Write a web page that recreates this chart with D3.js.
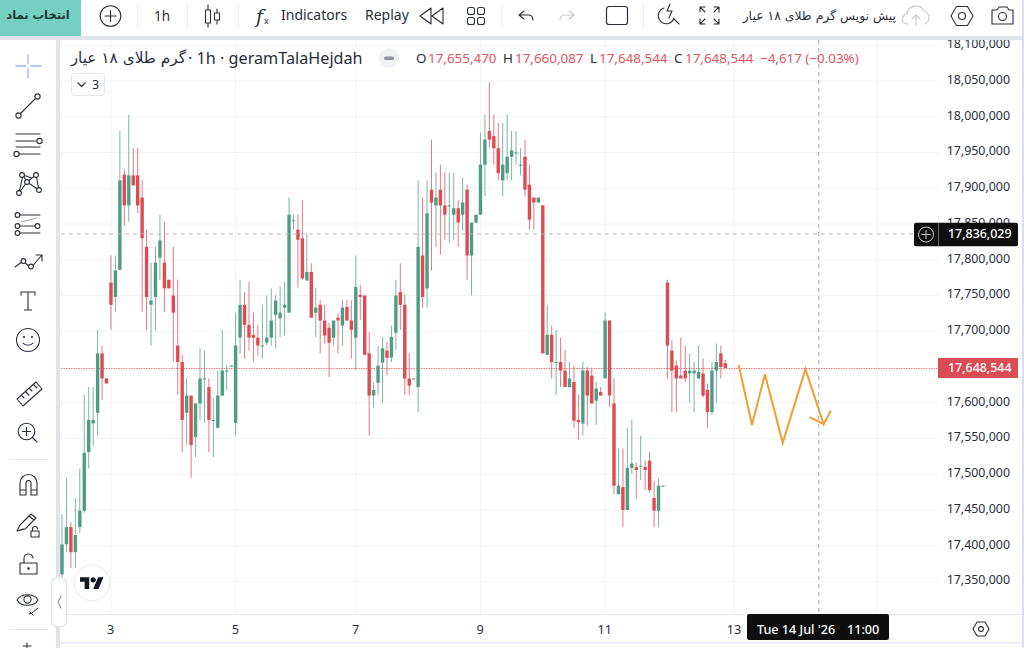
<!DOCTYPE html>
<html>
<head>
<meta charset="utf-8">
<title>geramTalaHejdah 1h</title>
<script src="https://cdn.jsdelivr.net/npm/d3@7/dist/d3.min.js"></script>
<style>
  html, body { margin: 0; padding: 0; background: #fff; }
  svg { display: block; }
  text { font-family: "Noto Sans", "DejaVu Sans", sans-serif; }
  .fa { font-family: "DejaVu Sans", sans-serif; }
</style>
</head>
<body>
<svg id="chart" width="1024" height="648"></svg>
<script>
// Hourly candles, prices in thousands.
const opens = [17360,17402,17426,17391,17426,17449,17531,17571,17586,17669,
17634,17768,17748,17786,17919,17876,17918,17918,17887,17818,
17737,17748,17803,17796,17772,17750,17680,17657,17586,17610,
17552,17599,17633,17622,17575,17565,17610,17644,17651,17572,
17691,17737,17709,17695,17691,17679,17684,17691,17723,17718,
17733,17726,17854,17842,17830,17771,17783,17726,17737,17715,
17705,17691,17719,17708,17734,17715,17691,17751,17750,17669,
17610,17628,17656,17673,17663,17698,17755,17737,17634,17633,
17622,17806,17760,17898,17876,17898,17876,17875,17863,17872,
17863,17898,17806,17852,17863,17933,17980,17973,17956,17911,
17921,17944,17949,17932,17944,17905,17887,17880,17876,17667,
17695,17656,17657,17645,17622,17629,17576,17571,17645,17638,
17603,17615,17634,17715,17599,17472,17482,17450,17509,17510,
17511,17510,17519,17467,17449,17483,17768,17673,17652,17638,
17645,17641,17641,17634,17641,17618,17587,17645,17669,17655.47];

const highs = [17444,17495,17433,17466,17508,17611,17622,17622,17702,17680,
17634,17806,17806,17980,17926,18003,17956,17956,17911,17842,
17796,17818,17863,17853,17772,17818,17772,17667,17634,17610,
17599,17676,17673,17634,17606,17645,17702,17653,17652,17726,
17772,17755,17769,17726,17709,17737,17750,17760,17751,17762,
17769,17887,17863,17863,17883,17837,17795,17761,17744,17737,
17712,17715,17725,17744,17744,17743,17806,17765,17750,17699,
17629,17680,17692,17685,17708,17772,17795,17751,17669,17634,
17911,17887,17911,17968,17922,17933,17922,17922,17922,17883,
17915,17905,17852,17863,17978,18003,18048,18003,17991,17991,
18003,17980,17980,17956,17968,17933,17887,17887,17876,17737,
17708,17702,17691,17674,17657,17652,17611,17657,17650,17649,
17629,17622,17726,17715,17634,17536,17536,17565,17576,17516,
17554,17519,17531,17491,17494,17484,17772,17687,17659,17691,
17680,17669,17657,17680,17662,17627,17657,17683,17680,17660.087];

const lows = [17355,17391,17369,17369,17418,17446,17508,17540,17554,17604,
17627,17702,17727,17786,17848,17853,17904,17865,17727,17702,
17680,17702,17772,17727,17760,17657,17611,17531,17541,17495,
17524,17576,17572,17531,17524,17565,17610,17618,17651,17554,
17669,17662,17673,17657,17666,17662,17680,17680,17676,17692,
17694,17726,17842,17761,17772,17771,17719,17692,17669,17683,
17636,17680,17669,17680,17715,17662,17646,17716,17667,17554,
17593,17611,17600,17638,17657,17674,17702,17611,17611,17633,
17587,17733,17733,17785,17818,17807,17828,17823,17828,17818,
17841,17772,17750,17852,17863,17889,17957,17933,17911,17889,
17911,17911,17933,17918,17889,17842,17842,17880,17669,17667,
17634,17611,17622,17622,17621,17565,17548,17554,17568,17599,
17569,17610,17634,17594,17472,17472,17426,17450,17501,17466,
17492,17478,17474,17426,17426,17483,17634,17587,17587,17634,
17629,17600,17587,17634,17607,17565,17583,17600,17634,17648.544];

const closes = [17402,17426,17391,17415,17449,17530,17576,17576,17669,17634,
17627,17737,17785,17911,17876,17918,17904,17876,17830,17748,
17743,17796,17827,17760,17760,17726,17657,17576,17610,17541,
17599,17634,17634,17576,17576,17610,17645,17645,17652,17680,
17737,17709,17691,17691,17680,17680,17691,17715,17743,17726,
17737,17863,17855,17828,17774,17783,17719,17733,17715,17694,
17684,17715,17715,17733,17715,17702,17762,17748,17667,17610,
17618,17652,17676,17663,17692,17750,17737,17634,17624,17634,
17818,17748,17865,17880,17887,17876,17863,17876,17872,17852,
17880,17806,17852,17863,17933,17968,17968,17956,17921,17933,
17944,17953,17950,17933,17898,17856,17880,17887,17669,17695,
17657,17657,17645,17622,17634,17575,17573,17645,17610,17599,
17620,17610,17715,17610,17484,17484,17450,17509,17515,17506,
17512,17506,17478,17449,17484,17484,17680,17645,17634,17634,
17634,17645,17645,17643,17610,17587,17645,17657,17650,17648.544];

// Price axis labels and date axis.
const priceTicks = [18100,18050,18000,17950,17900,17850,17800,17750,17700,17600,17550,17500,17450,17400,17350];
const dateBars = [11,39,66,94,122,151];
const dateLabels = ["3","5","7","9","11","13"];
const extraGridBars = [183];

// Hand-drawn forecast zigzag (bar position, price).
const forecastBars = [152,155,157.9,161.9,167,171.1,172.7];
const forecastPrices = [17653,17569,17640,17544,17647,17570,17589];
const arrowBarBack = 167.9;
const arrowPriceBack = 17580;

// Crosshair and last price.
const crossBar = 170;
const crossPrice = 17836.029;
const crossPriceText = "17,836,029";
const crossDateText = "Tue 14 Jul '26";
const crossTimeText = "11:00";
const lastPrice = 17648.544;
const lastPriceText = "17,648,544";

const ohlcHead = [
  {k:"O", kx:416, v:"17,655,470", vx:428},
  {k:"H", kx:503, v:"17,660,087", vx:515},
  {k:"L", kx:590, v:"17,648,544", vx:599},
  {k:"C", kx:674, v:"17,648,544", vx:685}
];
const changeText = "\u22124,617 (\u22120.03%)";

const UP = "#4f9c85", DOWN = "#dd4b53", INK = "#2a2e39", RULE = "#e4e6ed", GRID = "#f3f4f6";
const x = d3.scaleLinear().domain([0, 149]).range([62, 725.3]);
const y = d3.scaleLinear().domain([17350, 18100]).range([581.5, 45.25]);
const svg = d3.select("#chart");

svg.append("rect").attr("width", 1024).attr("height", 648).attr("fill", "#fff");

// Grid
const grid = svg.append("g");
priceTicks.forEach(p => grid.append("line").attr("x1", 61).attr("x2", 938)
  .attr("y1", y(p)).attr("y2", y(p)).attr("stroke", GRID));
dateBars.concat(extraGridBars).forEach(b => grid.append("line").attr("x1", x(b)).attr("x2", x(b))
  .attr("y1", 40).attr("y2", 614).attr("stroke", GRID));

// Last price line sits under the candles
const lastY = Math.floor(y(lastPrice)) + 0.5;
svg.append("line").attr("x1", 61).attr("x2", 938).attr("y1", lastY).attr("y2", lastY)
  .attr("stroke", "#f2777c").attr("stroke-width", 1).attr("stroke-dasharray", "1.5 1");

// Candles
const bars = d3.range(opens.length).map(i => ({i, o: opens[i], h: highs[i], l: lows[i], c: closes[i]}));
const candle = svg.append("g").selectAll("g").data(bars).join("g");
const tone = d => d.c >= d.o ? UP : DOWN;
candle.append("line")
  .attr("x1", d => x(d.i)).attr("x2", d => x(d.i))
  .attr("y1", d => y(d.h)).attr("y2", d => y(d.l))
  .attr("stroke", tone).attr("stroke-width", 1).attr("stroke-opacity", 0.75);
candle.append("rect")
  .attr("x", d => x(d.i) - 1.7).attr("width", 3.4)
  .attr("y", d => y(Math.max(d.o, d.c)))
  .attr("height", d => Math.max(1, Math.abs(y(d.o) - y(d.c))))
  .attr("fill", tone);

// Forecast drawing
const line = d3.line().x(d => x(d[0])).y(d => y(d[1]));
const fc = forecastBars.map((b, i) => [b, forecastPrices[i]]);
svg.append("path").attr("d", line(fc)).attr("fill", "none")
  .attr("stroke", "#efa030").attr("stroke-width", 2).attr("stroke-linejoin", "miter");
svg.append("path").attr("d", line([[arrowBarBack, arrowPriceBack], fc[5]])).attr("fill", "none")
  .attr("stroke", "#efa030").attr("stroke-width", 2);

// Crosshair
svg.append("line").attr("x1", 61).attr("x2", 914).attr("y1", y(crossPrice)).attr("y2", y(crossPrice))
  .attr("stroke", "#b4b7bf").attr("stroke-dasharray", "4 4");
svg.append("line").attr("x1", x(crossBar)).attr("x2", x(crossBar)).attr("y1", 40).attr("y2", 614)
  .attr("stroke", "#a6a9b2").attr("stroke-dasharray", "4 4");

// Price axis
const yAxis = d3.axisRight(y).tickValues(priceTicks).tickSize(0)
  .tickFormat(v => d3.format(",")(v * 1000));
const yG = svg.append("g").attr("transform", "translate(1010,0)").call(yAxis);
yG.select(".domain").remove();
yG.selectAll("text").attr("x", 0).attr("dy", "0.32em").attr("y", -1.5).attr("text-anchor", "end")
  .attr("font-size", 12.4).attr("fill", INK).style("font-family", '"Noto Sans", sans-serif');

// Date axis
const xAxis = d3.axisBottom(x).tickValues(dateBars).tickSize(0)
  .tickFormat((d, i) => dateLabels[i]);
const xG = svg.append("g").attr("transform", "translate(-0.8,614)").call(xAxis);
xG.select(".domain").remove();
xG.selectAll("text").attr("y", 15.5).attr("dy", "0.32em").attr("font-size", 12.7).attr("fill", INK)
  .style("font-family", '"Noto Sans", sans-serif');

// Panel borders
const band = (a, b, w, h, f = "#e0e3eb") => svg.append("rect").attr("x", a).attr("y", b).attr("width", w).attr("height", h).attr("fill", f);
band(0, 36, 1024, 4);
band(56, 36, 4, 612);
band(60, 614, 964, 1, "#e6e8ee");
band(60, 642, 964, 1.5, "#e6e6f4");
band(1022, 0, 2, 648, "#dcdcf5");

// Crosshair tags
band(914, 222.7, 104, 23.5, "#0f0f10").attr("rx", 2);
band(938, 223, 0.8, 23, "#7c7c80");
svg.append("circle").attr("cx", 926).attr("cy", 234.5).attr("r", 7.5).attr("fill", "none").attr("stroke", "#c8c8cc");
svg.append("path").attr("d", "M921.5 234.5h9M926 230v9").attr("stroke", "#c8c8cc");
const tagText = (tx, ty, s, size = 12.4) => svg.append("text").attr("x", tx).attr("y", ty).attr("dy", "0.34em")
  .attr("fill", "#fff").attr("font-size", size).attr("font-weight", 500).text(s);
tagText(948, 234, crossPriceText);
band(938, 358, 80, 20, "#d94c53").attr("rx", 1);
tagText(948, 368, lastPriceText);
band(747, 614, 142, 26, "#0f0f10").attr("rx", 2);
tagText(757, 629.5, crossDateText, 12.6);
tagText(847, 629.5, crossTimeText, 12.6);

// Toolbar
band(0, 0, 81, 36, "#76cfc3");
const txt = (tx, ty, s, size, opt = {}) => svg.append("text").attr("x", tx).attr("y", ty).attr("dy", "0.34em")
  .attr("font-size", size).attr("fill", opt.fill || INK).attr("font-weight", opt.w || 400)
  .attr("text-anchor", opt.a || "start").attr("class", opt.cls || null).text(s);
txt(38, 15.5, "انتخاب نماد", 11.5, {a: "middle", cls: "fa", w: 700, fill: "#1e3a36"});
[85, 137, 187, 238, 501, 643].forEach(sx => band(sx, 4, 1, 24, "#eceef2"));

const ic = (d, opt = {}) => svg.append("path").attr("d", d).attr("fill", opt.fill || "none")
  .attr("stroke", opt.stroke || INK).attr("stroke-width", opt.sw || 1.1)
  .attr("stroke-linecap", "round").attr("stroke-linejoin", "round");
const dot = (cx, cy, r, opt = {}) => svg.append("circle").attr("cx", cx).attr("cy", cy).attr("r", r)
  .attr("fill", opt.fill || "#fff").attr("stroke", opt.stroke || INK).attr("stroke-width", opt.sw || 1.1);

dot(110.5, 16, 10.3);
ic("M105 16h11M110.5 10.5v11");
txt(162, 16, "1h", 13.5, {a: "middle"});
ic("M208 5v5M208 23v4M208 10h0M205.5 10h5v13h-5zM217 9v4M217 20v4M214.5 13h5v7h-5z");
svg.append("text").attr("x", 256).attr("y", 23).attr("font-size", 19).attr("font-style", "italic").attr("fill", INK).style("font-family", '"DejaVu Serif", serif').text("f");
svg.append("text").attr("x", 264).attr("y", 24).attr("font-size", 9).attr("fill", INK).text("x");
txt(281, 15.5, "Indicators", 14);
txt(365, 15.5, "Replay", 14);
ic("M431 8l-11 8 11 8zM443 8l-11 8 11 8z");
[[467.5, 7.5], [477.5, 7.5], [467.5, 17.5], [477.5, 17.5]].forEach(p =>
  svg.append("rect").attr("x", p[0]).attr("y", p[1]).attr("width", 7).attr("height", 7).attr("rx", 2)
    .attr("fill", "none").attr("stroke", INK).attr("stroke-width", 1.1));
ic("M519 15h9c3 0 5 2 5 5M519 15l5-4M519 15l5 4");
ic("M574 15h-9c-3 0-5 2-5 5M574 15l-5-4M574 15l-5 4", {stroke: "#c3c6ce"});
svg.append("rect").attr("x", 606.5).attr("y", 6.5).attr("width", 21).attr("height", 18).attr("rx", 2.5)
  .attr("fill", "none").attr("stroke", INK).attr("stroke-width", 1.2);
ic("M664 8a8 8 0 1 0 10 10M674 19l5 5M670 4l-3 7h5l-3 7");
ic("M700 7h5M700 7l5 5M700 7v5M719 7h-5M719 7l-5 5M719 7v5M700 24h5M700 24l5-5M700 24v-5M719 24h-5M719 24l-5-5M719 24v-5");
txt(896, 16, "پیش نویس گرم طلای ۱۸ عیار", 12.4, {a: "end", cls: "fa"});
ic("M908 24a5 5 0 0 1-1-10 9 9 0 0 1 17-3 7 7 0 0 1 1 13M916 25v-9M912 19l4-4 4 4", {stroke: "#c5c7ce"});
ic("M951 16l5.5-9.5h11l5.5 9.5-5.5 9.5h-11z");
dot(962, 16, 3.5);
ic("M992 10h5l2-3h8l2 3h4v14h-21z");
dot(1002.5, 16.5, 4);

// Legend row
svg.append("text").attr("x", 186).attr("y", 58).attr("dy", "0.34em").attr("class", "fa").attr("font-size", 15.3)
  .attr("text-anchor", "end").attr("fill", INK).text("گرم طلای ۱۸ عیار");
txt(188, 58, "\u00b7 1h \u00b7 geramTalaHejdah", 16.2);
dot(389, 58, 9.5, {fill: "#f0f1f4", stroke: "#f0f1f4"});
svg.append("rect").attr("x", 384).attr("y", 56.5).attr("width", 10).attr("height", 3.5).attr("rx", 1.5).attr("fill", "#8f939c");
ohlcHead.forEach(e => {
  txt(e.kx, 58, e.k, 13.4);
  txt(e.vx, 58, e.v, 13.4, {fill: "#df5660"});
});
txt(760, 58, changeText, 13.4, {fill: "#df5660"});
svg.append("rect").attr("x", 71.5).attr("y", 73.5).attr("width", 33).attr("height", 22).attr("rx", 3)
  .attr("fill", "#fff").attr("stroke", "#e3e5ea");
ic("M78 83l3.5 3.5 3.5-3.5", {sw: 1.2});
txt(92, 85, "3", 12.5);

// Left drawing tools
ic("M28 55v9M28 69v9M16 66h10M31 66h10", {stroke: "#9db2f2", sw: 1.3});
ic("M19 115L37 97"); dot(18.5, 115.5, 2.6); dot(37.5, 96.5, 2.6);
ic("M16 134h24M16 141h20M16 147h24M18 154h22"); dot(39.5, 141, 2.6); dot(16.5, 154, 2.6);
ic("M19 193L23 175 32 178 36 175 39 190 27 182 19 193M23 175L27 182 32 178");
[[19, 193], [22, 175], [27, 182], [36, 175], [39, 190]].forEach(p => dot(p[0], p[1], 2.4));
ic("M18 215h22M18 226h20M18 233h22"); ic("M21 222l16-4", {stroke: "#9a9ea8", sw: 1});
dot(17.5, 215, 2.4); dot(17.5, 226, 2.4); dot(17.5, 233, 2.4); dot(37.5, 226, 2.4);
ic("M15 267l8-6 8 7 10-12M36 255h6v6"); dot(23.5, 261, 2.4); dot(31, 266.5, 2.4);
ic("M21 295v-3h14v3M28 292v18M24.5 310h7");
dot(28, 340, 11.5); ic("M23 343c2 3 8 3 10 0"); dot(24, 337, 0.5, {fill: INK}); dot(32, 337, 0.5, {fill: INK});
ic("M17 399L36 382 42 389 23 406zM22 396l2 2M26 392l3 3M30 389l2 2M34 385l3 3");
dot(26.5, 431.5, 8.3); ic("M22.5 431.5h8M26.5 427.5v8M32.5 437.5l4.5 4.5");
band(9, 459, 39, 1, "#e6e8ee");
ic("M20 495v-12a8.5 8.5 0 0 1 17 0v12h-6v-12a2.5 2.5 0 0 0-5 0v12zM20 490h6M31 490h6");
ic("M17 531l3-6 11-11 5 4-11 11zM17 531l6-2M29 516l5 4");
ic("M31 531h8v6h-8zM32.5 531v-2a2.5 2.5 0 0 1 5 0");
ic("M20 563h17v11h-17zM24 563v-4a4.5 4.5 0 0 1 9-1");
dot(28.5, 568.5, 0.7, {fill: INK});
ic("M17 600c4-7 17-7 21 0-4 7-17 7-21 0z"); dot(27.5, 599.5, 3.6);
ic("M29 614l3-1 6-5M30 612l3 3", {sw: 1});
band(9, 629, 39, 1, "#e6e8ee");
ic("M23 646h8M27 643v5", {sw: 1});

// Collapse handle and logo
svg.append("rect").attr("x", 51.5).attr("y", 577.5).attr("width", 15).attr("height", 49).attr("rx", 6)
  .attr("fill", "#fff").attr("stroke", "#e0e3eb").attr("stroke-width", 1.2);
ic("M61 596l-3 6 3 6", {stroke: "#a0a4ad", sw: 1.3});
dot(92, 583, 18, {stroke: "#eceef2"});
svg.append("g").attr("transform", "translate(80,574.5) scale(0.66)")
  .call(g => {
    g.append("path").attr("d", "M14 22H7V11H0V4h14v18zM28 22h-8l7.5-18h8L28 22z").attr("fill", "#131722");
    g.append("circle").attr("cx", 20).attr("cy", 8).attr("r", 4).attr("fill", "#131722");
  });

// Axis settings
ic("M973 629l4-7h8l4 7-4 7h-8z"); dot(981, 629, 2.4);
</script>
</body>
</html>
